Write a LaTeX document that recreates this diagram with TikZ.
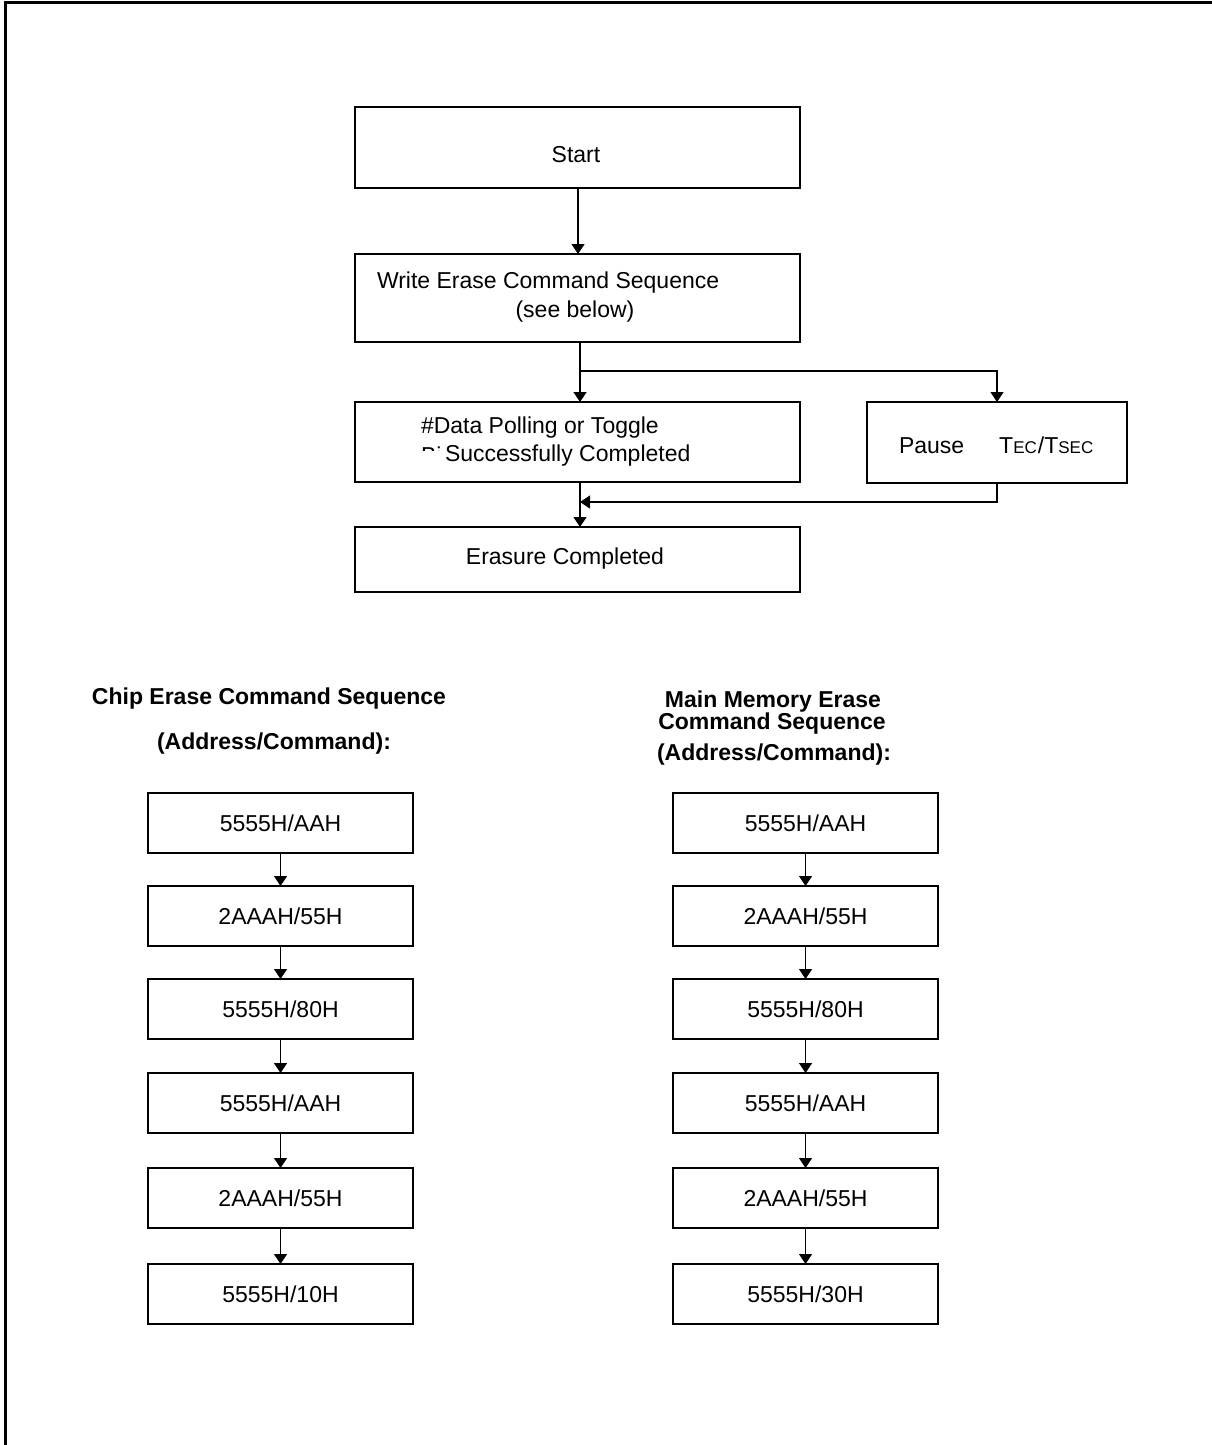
\documentclass[tikz,border=0pt]{standalone}
\usepackage{fontspec}
\setmainfont{Liberation Sans}
\usetikzlibrary{arrows.meta}
\begin{document}
\begin{tikzpicture}[x=1pt,y=-1pt,
  box/.style={draw, line width=1.4pt, inner sep=0, outer sep=0, anchor=north west,
    font=\fontsize{23}{27}\selectfont},
  flowbox/.style={box, minimum width=445, minimum height=#1},
  cbox/.style={box, minimum width=265, minimum height=60},
  txt/.style={inner sep=0, outer sep=0, font=\fontsize{23}{27}\selectfont},
  head/.style={inner sep=0, outer sep=0, font=\fontsize{23}{27}\selectfont\bfseries},
  arr/.style={line width=1.3pt, -{Triangle[length=10pt,width=13pt]}},
  ln/.style={line width=1.3pt}]
\useasboundingbox (0,0) rectangle (1212,1445);
% frame
\draw[line width=2.6pt] (5.5,1445) -- (5.5,2.5) -- (1212,2.5);

% top flowchart
\node[flowbox=81] (start) at (355,107) {};
\node[txt] (tstart) at (576,155) {Start};
\node[flowbox=88] (write) at (355,254) {};
\node[txt, anchor=west] (twrite1) at (377,283) {Write Erase Command Sequence};
\node[txt] (twrite2) at (575,312) {(see below)};
\node[flowbox=80] (data) at (355,402) {};
\begin{scope}
  \clip (415,438) rectangle (444,450.5);
  \node[txt, anchor=west] (tbit) at (421,455) {Bi};
\end{scope}
\node[txt, anchor=west] (tdata1) at (421,428) {\#Data Polling or Toggle};
\node[txt, anchor=west] (tdata2) at (445,456) {Successfully Completed};
\node[box, minimum width=260, minimum height=81] (pause) at (867,402) {};
\node[txt, anchor=west] (tpause) at (899,445)
  {Pause\hspace{35pt}T{\fontsize{17}{20}\selectfont EC}\hspace{1pt}/T{\fontsize{17}{20}\selectfont SEC}};
\node[flowbox=65] (erase) at (355,527) {};
\node[txt] (terase) at (565,559) {Erasure Completed};

\coordinate (br) at (580,371);
\coordinate (mj) at (580,502);
\draw[arr] (start.south -| 578,0) -- (write.north -| 578,0);
\draw[arr] (write.south -| 580,0) -- (data.north -| 580,0);
\draw[arr] (br) -| (pause.north -| 997,0);
\draw[arr] (pause.south -| 997,0) |- (mj);
\draw[arr] (data.south -| 580,0) -- (erase.north -| 580,0);

% headings
\node[head] (hl1) at (269,699) {Chip Erase Command Sequence};
\node[head] (hl2) at (274,744) {(Address/Command):};
\node[head] (hr1) at (773,702) {Main Memory Erase};
\node[head] (hr2) at (772,724) {Command Sequence};
\node[head] (hr3) at (774,755) {(Address/Command):};

% left column
\node[cbox] (L1) at (148,793) {5555H/AAH};
\node[cbox] (L2) at (148,886) {2AAAH/55H};
\node[cbox] (L3) at (148,979) {5555H/80H};
\node[cbox] (L4) at (148,1073) {5555H/AAH};
\node[cbox] (L5) at (148,1168) {2AAAH/55H};
\node[cbox] (L6) at (148,1264) {5555H/10H};
% right column
\node[cbox] (R1) at (673,793) {5555H/AAH};
\node[cbox] (R2) at (673,886) {2AAAH/55H};
\node[cbox] (R3) at (673,979) {5555H/80H};
\node[cbox] (R4) at (673,1073) {5555H/AAH};
\node[cbox] (R5) at (673,1168) {2AAAH/55H};
\node[cbox] (R6) at (673,1264) {5555H/30H};

\foreach \a/\b in {L1/L2,L2/L3,L3/L4,L4/L5,L5/L6,R1/R2,R2/R3,R3/R4,R4/R5,R5/R6}
  \draw[arr] (\a.south) -- (\b.north);
\end{tikzpicture}
\end{document}
